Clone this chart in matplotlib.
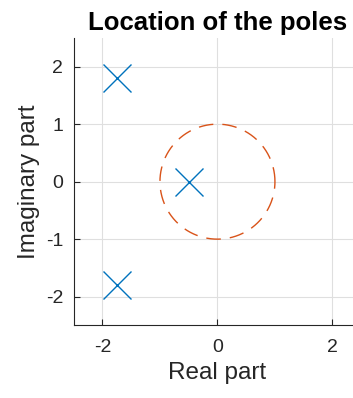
import numpy as np
import matplotlib
matplotlib.use("Agg")
import matplotlib.pyplot as plt

plt.rcParams['font.family'] = ['Liberation Sans', 'DejaVu Sans']
plt.rcParams['axes.unicode_minus'] = False

# Pole locations (real, imaginary)
pole_re = [-1.75, -1.75, -0.5]
pole_im = [1.8, -1.8, 0.0]

# Unit circle
theta = np.linspace(0, 2 * np.pi, 400)
circ_x = np.cos(theta)
circ_y = np.sin(theta)

xticks = [-2, 0, 2]
yticks = [-2, -1, 0, 1, 2]

W, H = 353, 398
fig = plt.figure(figsize=(W / 100, H / 100), dpi=100)
ax = fig.add_axes([73.7 / W, 72.6 / H, 287.5 / W, 287.5 / H])

ax.plot(circ_x, circ_y, color='#D95319', lw=1.0, dashes=(10.5, 6.5))
ax.plot(pole_re, pole_im, linestyle='none', marker='x', ms=20, mew=1.0,
        color='#0072BD')

ax.set_xlim(-2.5, 2.5)
ax.set_ylim(-2.5, 2.5)
ax.set_xticks(xticks)
ax.set_yticks(yticks)
ax.grid(True, color='#dfdfdf', lw=0.8)
ax.set_axisbelow(True)
for s in ['top', 'right']:
    ax.spines[s].set_visible(False)
for s in ['left', 'bottom']:
    ax.spines[s].set_color('#262626')
    ax.spines[s].set_linewidth(0.8)
ax.tick_params(direction='in', length=4, width=0.8, colors='#262626',
               labelsize=14)
ax.tick_params(axis='x', pad=10)
ax.tick_params(axis='y', pad=7.5)

ax.set_xlabel('Real part', fontsize=17.5, color='#262626', labelpad=4)
ax.set_ylabel('Imaginary part', fontsize=17.5, color='#262626', labelpad=4)
ax.set_title('Location of the poles', fontsize=18.5, fontweight='bold',
             pad=5.5)

fig.savefig('out.png', dpi=100)
